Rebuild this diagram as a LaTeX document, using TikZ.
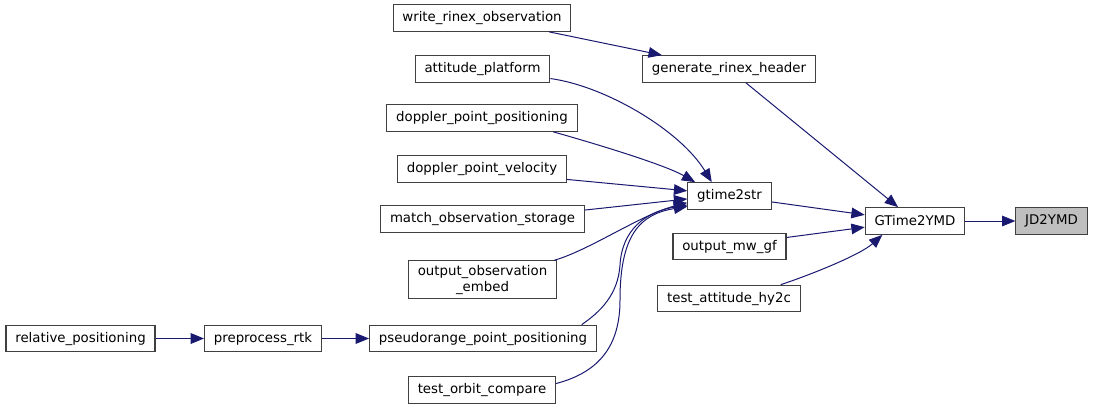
\documentclass[tikz,border=0pt]{standalone}
\usepackage{fontspec}
\setmainfont{DejaVu Sans}
\usetikzlibrary{arrows.meta}
\definecolor{edgeblue}{HTML}{191970}
\definecolor{boxline}{HTML}{404040}
\definecolor{rootfill}{HTML}{BFBFBF}

\begin{document}
\begin{tikzpicture}[x=0.75pt, y=-0.75pt,
    fn/.style={draw=boxline, line width=0.8pt, fill=white, minimum height=20pt, inner xsep=7pt, inner ysep=3pt, align=center, font=\fontsize{10}{12}\selectfont},
    call/.style={-{Triangle[length=10pt,width=8pt]}, edgeblue, line width=0.75pt}
]
\useasboundingbox (0,0) rectangle (1095,408);

\node[fn] (wro) at (482,18) {write\_rinex\_observation};
\node[fn] (grh) at (729,69) {generate\_rinex\_header};
\node[fn] (att) at (482.5,69) {attitude\_platform};
\node[fn] (dpp) at (482,118) {doppler\_point\_positioning};
\node[fn] (dpv) at (482,169) {doppler\_point\_velocity};
\node[fn] (mos) at (482.5,219) {match\_observation\_storage};
\node[fn] (ooe) at (482.5,279.5) {output\_observation\\\_embed};
\node[fn] (ppp) at (483,338.5) {pseudorange\_point\_positioning};
\node[fn] (tor) at (482,390) {test\_orbit\_compare};
\node[fn] (rel) at (80.5,338.5) {relative\_positioning};
\node[fn] (pre) at (263,338.5) {preprocess\_rtk};
\node[fn] (gts) at (729.5,196) {gtime2str};
\node[fn] (omg) at (729.5,246.5) {output\_mw\_gf};
\node[fn] (tah) at (729,298.5) {test\_attitude\_hy2c};
\node[fn] (gym) at (915,221) {GTime2YMD};
\node[fn, fill=rootfill] (jd) at (1051.5,221) {JD2YMD};

\draw[call] (wro) -- (grh);
\draw[call] (grh) -- (gym);
\draw[call] (att.-8) .. controls (605,86) and (680,130) .. (gts.142);
\draw[call] (dpp.-11) .. controls (600,145) and (665,165) .. (gts.158);
\draw[call] (dpv.-7) -- (gts.173);
\draw[call] (mos.5) -- (gts.-176);
\draw[call] (ooe.15) .. controls (590,250) and (640,215) .. (gts.-171);
\draw[call] (ppp.8) .. controls (600,312) and (618,295) .. (620,265) .. controls (622,230) and (645,212) .. (gts.-168);
\draw[call] (tor.5) .. controls (600,372) and (620,345) .. (620,300) .. controls (620,235) and (640,214) .. (gts.-166);
\draw[call] (rel) -- (pre);
\draw[call] (pre) -- (ppp);
\draw[call] (gts.-8) -- (gym.173);
\draw[call] (omg.9) -- (gym.-173);
\draw[call] (tah.15) .. controls (810,275) and (860,255) .. (gym.-157);
\draw[call] (gym) -- (jd);
\end{tikzpicture}
\end{document}
